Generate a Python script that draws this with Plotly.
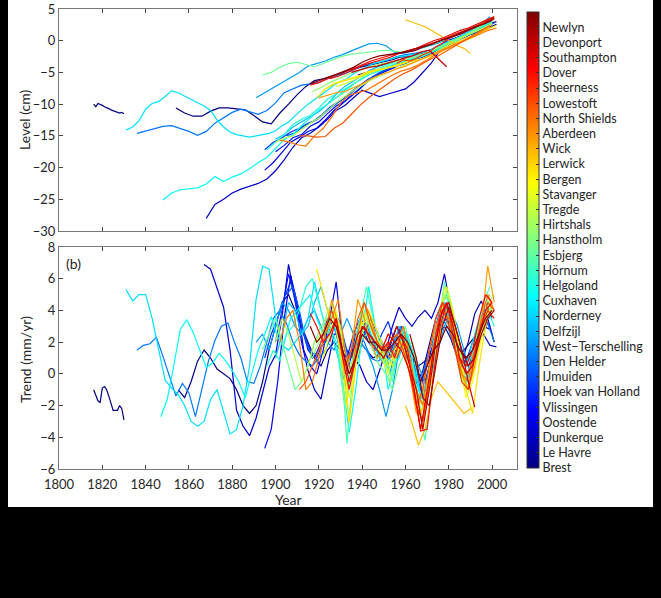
import plotly.graph_objects as go

W, H = 661, 598

# ---------------- data ----------------
stations = ["Brest", "Le Havre", "Dunkerque", "Oostende", "Vlissingen", "Hoek van Holland",
            "IJmuiden", "Den Helder", "West\u2212Terschelling", "Delfzijl", "Norderney", "Cuxhaven",
            "Helgoland", "Hörnum", "Esbjerg", "Hanstholm", "Hirtshals", "Tregde", "Stavanger",
            "Bergen", "Lerwick", "Wick", "Aberdeen", "North Shields", "Lowestoft", "Sheerness",
            "Dover", "Southampton", "Devonport", "Newlyn"]

# each series: (first year, year step, values)
lev_brest_a = (1816, 1, [-10.0, -10.4, -9.9, -10.0, -10.2, -10.4, -10.5, -10.7, -10.9, -11.0,
                         -11.1, -11.3, -11.4, -11.3, -11.5])
tr_brest_a = (1816, 1, [-1.0, -1.3, -1.7, -1.8, -0.9, -0.8, -1.0, -1.4, -1.8, -2.3,
                        -2.3, -2.3, -2.0, -2.2, -2.9])
lev_brest = (1854, 4, [-10.6, -11.4, -11.9, -11.9, -11.1, -10.6, -10.6, -10.7, -10.9, -11.8,
                       -12.8, -13.1, -11.4, -10.0, -8.5, -7.2, -6.3, -6.0, -5.6, -5.2,
                       -4.6, -4.3, -3.9, -3.6, -3.3, -3.0, -2.5, -2.6, -2.1, -1.9,
                       -1.2, -0.6, -0.2, 0.4, 1.0, 1.3, 2.0, 2.6])
tr_brest = (1855, 3, [-1.0, -1.5, -0.5, 0.8, 1.5, 1.0, 0.3, 0.0, -0.3, -1.0,
                      -2.0, -2.5, -2.0, -0.5, 1.5, 3.0, 4.5, 5.0, 4.0, 3.0,
                      2.0, 1.0, 0.5, 1.5, 2.0, 1.5, 1.0, 1.5, 2.0, 1.5,
                      1.0, 1.2, 0.8, 1.5, 2.0, 1.5, 1.0, 0.5, 0.8, 1.5,
                      2.5, 3.0, 2.2, 1.0, 1.5, 2.0, 2.5, 3.0, 2.8])

lev_lehavre = (1938, 4, [-5.4, -5.0, -4.6, -4.4, -4.0, -3.4, -3.0, -2.4, -1.8, -1.0,
                         -0.4, 0.2, 0.8, 1.2, 1.8, 2.6, 3.0])
tr_lehavre = (1950, 3, [1.0, 1.8, 3.0, 2.4, 0.5, -0.6, 0.2, 1.8, 3.5, 4.5,
                        3.2, 1.5, 0.8, 2.0, 3.8, 4.6, 3.5, 2.0])

lev_dunkerque = (1868, 4, [-28.0, -25.8, -25.0, -24.0, -23.4, -23.0, -22.5, -21.8, -20.5, -18.8,
                           -16.8, -15.3, -14.6, -13.6, -12.4, -11.0, -10.2, -9.0, -7.8, -8.3,
                           -8.8, -8.4, -8.0, -7.6, -6.5, -5.0, -3.5, -1.5, -0.6, 0.2,
                           0.8, 1.4, 1.9, 2.8])
tr_dunkerque = (1867, 3, [6.9, 6.6, 5.4, 4.2, 1.5, -2.3, -3.3, -3.9, -2.8, -1.2,
                          0.4, 1.2, 3.6, 6.9, 4.7, 2.0, 0.2, -1.0, -1.6, 0.5,
                          2.5, 2.5, 1.5, 1.0, 0.5, -0.5, -1.0, 0.2, 1.5, 3.0,
                          4.2, 3.5, 3.0, 3.6, 4.0, 3.5, 4.5, 6.3, 4.0, 2.0,
                          1.0, 1.2, 2.0, 2.5, 1.8, 1.7])

lev_oostende = (1895, 4, [-20.4, -19.2, -17.6, -16.0, -15.2, -14.3, -13.8, -12.5, -11.0, -9.9,
                          -8.8, -7.6, -6.2, -5.4, -4.8, -4.2, -3.4, -3.0, -2.4, -1.8,
                          -1.0, 0.0, 0.4, 0.9, 1.4, 2.0, 2.6])
tr_oostende = (1895, 3, [-4.7, -3.5, -0.5, 3.5, 6.2, 4.5, 1.5, 0.5, 0.0, 1.5,
                         3.5, 5.8, 2.0, 0.5, 2.5, 3.0, 2.0, 1.5, 2.0, 1.0,
                         2.0, 2.5, 1.5, 0.5, -0.5, 0.5, 2.0, 3.0, 3.5, 2.5,
                         1.0, 0.8, 2.0, 3.0, 3.5, 2.5])

lev_vlissingen = (1900, 4, [-17.5, -16.5, -15.3, -14.8, -13.5, -12.8, -11.5, -10.3, -9.5, -8.4,
                            -7.2, -6.0, -5.0, -4.4, -4.0, -3.6, -3.0, -2.6, -2.0, -1.4,
                            -0.6, 0.2, 0.8, 1.2, 1.8, 2.4])
tr_vlissingen = (1900, 3, [2.0, 4.0, 6.3, 5.0, 3.0, 1.5, 1.0, 2.0, 3.5, 3.0,
                           1.5, 1.0, 2.5, 3.5, 3.0, 2.2, 1.2, 1.8, 1.0, 2.0,
                           2.5, 1.5, 0.0, -0.5, 1.0, 2.5, 3.8, 3.0, 1.5, 0.5,
                           1.0, 2.5, 3.5, 3.0])

lev_hoek = (1895, 4, [-17.2, -16.0, -15.3, -14.4, -13.8, -13.0, -12.5, -11.3, -10.2, -9.2,
                      -8.0, -7.0, -6.0, -5.5, -4.6, -4.0, -3.4, -3.2, -2.6, -2.2,
                      -1.5, -0.8, -0.2, 0.6, 1.2, 1.8, 2.5])
tr_hoek = (1895, 3, [1.0, 2.5, 3.5, 4.8, 5.8, 4.0, 2.5, 1.5, 1.0, 2.0,
                     2.8, 3.2, 2.0, 1.0, 1.5, 2.8, 2.0, 1.5, 2.5, 3.3,
                     2.0, 3.0, 2.0, 0.5, -1.0, 1.0, 2.5, 4.0, 4.5, 2.5,
                     0.5, -0.5, 1.0, 2.5, 4.5, 3.5])

lev_ijmuiden = (1905, 4, [-15.0, -14.5, -13.5, -12.8, -11.8, -10.5, -9.6, -8.9, -7.6, -6.6,
                          -5.6, -4.9, -4.3, -3.6, -3.4, -2.8, -2.4, -1.8, -1.0, -0.2,
                          0.3, 1.0, 1.5, 2.2, 2.8])
tr_ijmuiden = (1905, 3, [5.0, 5.5, 4.0, 2.0, 1.0, 1.5, 2.0, 3.0, 3.5, 2.0,
                         0.0, 1.0, 2.5, 3.5, 2.5, 1.8, 0.0, 2.5, 3.0, 1.5,
                         0.0, -1.5, 0.5, 2.0, 3.5, 4.5, 3.0, 1.0, 0.5, 1.5,
                         3.0, 4.0])

lev_denhelder = (1836, 4, [-14.6, -14.2, -13.8, -13.5, -13.4, -13.8, -14.3, -14.9, -14.3, -13.0,
                           -12.2, -11.3, -10.8, -11.2, -11.6, -11.0, -9.8, -8.2, -7.6, -7.0,
                           -6.8, -6.6, -6.0, -5.5, -5.2, -4.6, -4.0, -3.6, -3.4, -3.0,
                           -2.5, -2.2, -2.0, -1.8, -1.4, -0.8, -0.2, 0.4, 1.0, 1.6,
                           2.2, 2.8])
tr_denhelder = (1836, 3, [1.5, 1.8, 1.9, 2.3, 1.1, -0.2, -1.4, -0.6, -1.2, -2.7,
                          -1.0, 0.8, 2.1, 3.0, 3.2, 2.0, 1.0, -0.5, -0.6, 0.5,
                          2.0, 3.5, 4.0, 3.2, 2.0, 1.2, 0.8, 0.5, 1.0, 1.5,
                          2.5, 1.0, -0.5, 1.5, 2.5, 2.0, 1.0, 0.8, 1.0, 1.5,
                          2.5, 1.5, 0.6, -0.5, 0.0, 1.5, 2.5, 3.5, 2.8, 1.5,
                          0.5, 1.0, 1.8, 2.5, 3.2, 2.0])

lev_westterschelling = (1891, 4, [-9.0, -8.2, -7.4, -6.6, -5.8, -5.0, -4.0, -3.6, -3.2, -2.6,
                                  -2.2, -1.6, -1.0, -0.5, -0.4, -0.8, -1.8, -2.0, -1.6, -1.2,
                                  -0.8, -0.4, 0.2, 0.8, 1.2, 1.8, 2.6, 3.8])
tr_westterschelling = (1891, 3, [2.0, 2.5, 1.5, 3.0, 4.5, 4.0, 3.0, 2.5, 3.5, 4.0,
                                 3.0, 2.0, 1.5, 2.5, 3.5, 2.5, 2.0, 1.5, 0.5, -1.0,
                                 -2.7, -1.0, 1.5, 2.5, 1.5, 0.5, -0.5, 0.0, 1.5, 3.0,
                                 4.0, 3.0, 1.5, 0.0, 1.0, 3.5, 4.5])

lev_delfzijl = (1900, 4, [-15.5, -14.8, -13.6, -12.8, -12.0, -11.2, -10.0, -8.4, -7.2, -6.4,
                          -5.5, -4.6, -4.0, -3.6, -3.2, -2.6, -2.4, -2.2, -1.6, -1.0,
                          -0.2, 0.4, 1.0, 1.8, 2.6, 3.4])
tr_delfzijl = (1900, 3, [1.0, 2.5, 4.5, 4.0, 2.5, 3.0, 4.5, 5.5, 4.0, 3.0,
                         1.5, -1.0, 0.5, 2.5, 3.0, 2.0, 1.0, 0.5, 1.5, 3.0,
                         2.5, 0.5, -1.5, -2.0, 0.0, 2.0, 4.0, 3.5, 1.0, -0.5,
                         0.5, 2.5, 4.0, 3.5])

lev_norderney = (1831, 3, [-14.1, -13.6, -12.6, -10.8, -9.9, -9.6, -8.8, -7.9, -8.2, -8.7,
                           -9.2, -9.8, -10.3, -11.0, -12.5, -13.6, -14.4, -14.8, -15.0, -15.2,
                           -15.0, -14.8, -14.6, -14.2, -13.4, -12.8, -11.8, -10.9, -10.0, -9.3,
                           -8.6, -7.8, -7.0, -6.4, -6.0, -5.2, -4.6, -4.2, -3.6, -3.3,
                           -3.0, -2.8, -2.5, -2.4, -2.2, -2.0, -1.8, -1.4, -1.0, -0.4,
                           0.0, 0.4, 1.0, 1.4, 2.0, 2.6, 3.2])
tr_norderney = (1831, 3, [5.3, 4.6, 5.0, 5.0, 3.5, 1.5, -0.4, -0.9, -1.3, -2.0,
                          -3.0, -3.3, -3.0, -1.6, -1.0, -2.4, -3.8, -3.5, -2.0, 0.5,
                          4.7, 6.8, 6.6, 3.6, 1.8, 1.5, 2.0, 2.5, 3.5, 5.8,
                          4.0, 2.5, 3.0, 2.0, -1.5, 1.0, 3.0, 3.5, 2.0, 1.0,
                          1.5, 0.5, 1.0, 2.5, 1.0, -1.0, -2.0, 0.5, 3.0, 4.5,
                          3.0, 1.0, 0.0, 1.5, 3.0, 4.0, 3.5])

lev_cuxhaven = (1848, 4, [-25.1, -24.0, -23.5, -23.3, -23.2, -22.6, -21.4, -22.2, -21.5, -21.0,
                          -20.2, -19.2, -18.4, -17.0, -15.6, -14.8, -13.4, -12.2, -10.9, -10.0,
                          -9.0, -7.8, -6.8, -6.0, -5.2, -4.6, -4.0, -3.6, -3.2, -2.8,
                          -2.4, -1.8, -1.0, -0.4, 0.2, 0.8, 1.6, 2.4, 3.2])
tr_cuxhaven = (1847, 3, [-2.7, -1.6, 0.5, 2.8, 3.4, 2.6, 1.5, 0.4, 0.7, 1.3,
                         0.8, 0.2, -0.5, -1.5, 0.0, 1.5, 2.5, 3.6, 2.3, 2.0,
                         3.5, 4.0, 4.5, 5.0, 3.5, 2.5, 3.0, 2.0, -0.5, -3.7,
                         -1.0, 2.5, 5.5, 3.0, 2.0, -1.0, 0.5, 2.0, 2.5, 1.0,
                         -1.5, -0.5, 2.0, 4.0, 5.0, 3.0, 1.0, -0.5, 0.5, 2.0,
                         3.5, 4.2])

lev_helgoland = (1896, 4, [-17.2, -16.0, -14.8, -13.2, -12.4, -11.8, -10.6, -9.2, -8.4, -7.6,
                           -6.8, -6.0, -5.2, -4.8, -4.2, -3.8, -3.4, -3.0, -2.4, -1.8,
                           -1.2, -0.6, 0.2, 0.8, 1.4, 2.2, 3.0])
tr_helgoland = (1896, 3, [0.5, 1.5, 0.8, 2.5, 3.0, 4.0, 5.5, 6.0, 4.5, 3.0,
                          2.5, 1.0, -2.0, 0.5, 3.0, 4.5, 3.0, 2.0, 1.0, 0.0,
                          1.5, 2.5, 1.0, -1.0, -3.0, -0.5, 2.0, 4.0, 3.5, 1.5,
                          -0.5, 0.0, 1.5, 3.0, 4.0, 3.0])

lev_hornum = (1925, 4, [-9.5, -8.8, -7.8, -6.6, -5.6, -4.8, -4.2, -3.6, -3.4, -3.0,
                        -2.6, -2.2, -1.6, -0.8, 0.0, 0.6, 1.2, 2.0, 2.8, 3.6])
tr_hornum = (1924, 3, [2.5, 4.0, 1.5, -4.4, 0.5, 3.5, 5.5, 3.5, 2.0, 1.0,
                       -0.5, 2.0, 3.0, 1.0, -2.0, -4.2, -1.0, 2.5, 5.8, 4.0,
                       1.5, -0.5, 0.5, 2.5, 4.5, 5.5])

lev_esbjerg = (1894, 4, [-5.4, -5.0, -4.2, -3.6, -3.4, -3.8, -4.1, -3.6, -3.0, -2.5,
                         -2.2, -2.0, -1.8, -1.6, -1.5, -1.6, -1.8, -1.6, -1.2, -0.8,
                         -0.4, 0.2, 0.6, 1.2, 1.8, 2.6, 3.4])
tr_esbjerg = (1894, 3, [1.5, 2.5, 3.5, 2.0, 0.5, -1.0, -0.5, 0.5, 2.0, 3.0,
                        3.5, 4.0, 3.0, 1.0, 0.5, 2.0, 2.5, 1.5, 0.5, 0.0,
                        -1.0, 0.5, 1.5, 2.0, 0.0, -1.5, 1.0, 3.0, 5.0, 4.5,
                        2.0, 0.5, 1.0, 2.5, 4.0, 5.0])

lev_hanstholm = (1917, 4, [-8.0, -7.4, -6.6, -6.0, -5.4, -4.8, -4.4, -4.0, -3.6, -3.4,
                           -3.2, -2.8, -2.4, -2.0, -1.4, -0.8, -0.2, 0.4, 1.0, 1.8,
                           2.8, 3.4])
tr_hanstholm = (1917, 3, [1.0, 2.0, 3.5, 4.5, 2.0, -2.0, 0.0, 2.5, 4.0, 3.0,
                          1.5, 1.0, -0.5, 1.5, 3.0, 1.0, -1.0, -3.0, -1.0, 2.0,
                          4.5, 5.0, 3.0, 0.5, -1.0, 0.5, 2.5, 4.5, 5.0])

lev_hirtshals = (1900, 4, [-16.0, -15.4, -15.0, -14.0, -13.0, -12.2, -11.0, -9.8, -8.8, -7.8,
                           -7.0, -6.2, -5.6, -5.0, -4.4, -3.8, -3.4, -2.8, -2.2, -1.4,
                           -0.6, 0.0, 0.8, 1.4, 2.0, 2.8])
tr_hirtshals = (1900, 3, [2.0, 3.5, 2.5, 1.0, -0.5, 0.5, 2.0, 2.5, 3.0, 4.0,
                          2.0, -0.5, 1.0, 3.0, 3.5, 2.5, 2.0, 1.0, 0.5, 1.5,
                          2.0, 0.0, -2.0, -1.5, 1.0, 3.0, 5.5, 4.5, 2.0, 0.0,
                          0.0, 1.5, 3.5, 4.5])

lev_tregde = (1928, 4, [-7.2, -6.8, -6.2, -5.6, -5.0, -4.6, -4.2, -4.0, -3.4, -3.2,
                        -2.8, -2.4, -1.8, -1.0, -0.4, 0.4, 1.0, 1.8, 2.6])
tr_tregde = (1928, 3, [3.0, 1.0, -1.5, 0.5, 2.5, 3.5, 2.5, 1.5, 0.5, 1.0,
                       2.5, 1.5, -0.5, -2.5, -1.0, 1.5, 3.5, 5.5, 4.0, 1.5,
                       -1.0, 0.0, 2.0, 3.5, 4.5])

lev_stavanger = (1922, 4, [-7.8, -7.0, -6.4, -6.0, -5.6, -5.0, -4.6, -4.4, -4.0, -3.6,
                           -3.2, -3.0, -2.6, -2.0, -1.4, -0.8, -0.2, 0.4, 1.0, 1.8,
                           2.4])
tr_stavanger = (1922, 3, [1.0, 2.5, 4.0, 2.0, -3.0, 0.5, 3.0, 4.0, 2.5, 1.0,
                          0.0, 1.5, 2.0, 1.0, -1.5, -3.5, -1.5, 1.0, 3.0, 4.5,
                          3.0, 0.5, -1.5, -0.5, 1.5, 3.5, 4.0])

lev_bergen = (1919, 4, [-9.0, -7.6, -6.8, -6.4, -6.0, -5.6, -5.0, -4.6, -4.4, -4.0,
                        -3.6, -3.2, -3.0, -2.4, -1.8, -1.0, -0.4, 0.2, 0.8, 1.4,
                        2.2])
tr_bergen = (1919, 3, [6.6, 5.0, 3.5, 3.0, 0.5, -3.1, 0.5, 3.5, 4.0, 3.0,
                       2.0, 1.5, 1.0, 2.0, 1.5, -1.0, -2.5, -1.5, 0.0, 2.5,
                       4.0, 3.5, 1.0, -1.0, -2.5, 0.5, 3.0, 4.5])

lev_lerwick = (1960, 3, [3.3, 2.9, 2.5, 2.2, 1.6, 1.0, 0.5, -0.2, -0.8, -1.2, -2.0])
tr_lerwick = (1960, 3, [-2.0, -3.1, -4.5, -3.5, -1.5, -0.5, -1.0, -1.5, -2.0, -2.5, -2.2])

lev_wick = (1920, 4, [-9.0, -8.6, -8.2, -8.0, -7.4, -6.8, -6.0, -5.4, -5.0, -4.4,
                      -4.0, -3.4, -2.8, -2.2, -1.6, -1.0, -0.4, 0.2, 0.8, 1.6,
                      2.2])
tr_wick = (1920, 3, [1.0, 2.5, 4.7, 3.0, 0.0, 1.5, 4.7, 3.5, 2.0, 1.0,
                     1.5, 2.0, 2.5, 1.5, 0.0, -2.5, -1.0, 1.5, 3.0, 4.0,
                     3.5, 1.5, 0.0, -1.0, 0.5, 3.0, 6.8, 4.5])

lev_aberdeen = (1902, 4, [-15.7, -15.9, -16.4, -16.6, -15.0, -13.8, -12.0, -9.8, -8.6, -8.2,
                          -7.8, -7.0, -6.2, -5.4, -4.8, -4.4, -3.8, -3.0, -2.2, -1.4,
                          -0.8, -0.2, 0.4, 1.0, 1.6, 2.0])
tr_aberdeen = (1902, 3, [2.0, 3.5, 4.0, 2.0, -1.0, -0.5, 1.0, 2.5, 3.5, 4.7,
                         1.5, 0.0, 2.5, 4.5, 3.5, 2.0, 1.5, 1.0, 2.0, 3.0,
                         1.0, -1.0, -2.0, 0.5, 2.5, 4.0, 3.5, 1.5, 0.0, -0.5,
                         1.5, 3.5, 5.0, 4.0])

lev_northshields = (1911, 4, [-15.0, -15.0, -15.2, -15.1, -13.8, -13.0, -11.6, -10.2, -9.0, -8.0,
                              -7.0, -6.0, -5.2, -4.6, -3.8, -3.0, -2.4, -1.6, -0.8, 0.0,
                              0.8, 1.6, 2.4])
tr_northshields = (1911, 3, [-1.0, -0.5, 0.5, 1.5, 3.0, 4.0, 2.5, 0.5, 1.5, 3.5,
                             4.5, 3.0, 2.0, 1.5, 2.0, 2.5, 1.5, 0.0, -2.0, -1.0,
                             1.5, 3.5, 4.5, 3.0, 1.5, 0.5, 0.0, 1.5, 3.0, 4.5,
                             4.0])

lev_lowestoft = (1956, 3, [-3.6, -3.0, -3.2, -2.8, -2.2, -1.8, -1.0, -0.4, 0.4, 0.8,
                           1.4, 1.8, 2.2, 2.6, 3.0, 3.4])
tr_lowestoft = (1956, 3, [1.0, 2.0, 0.5, -2.0, -3.0, -0.5, 2.5, 4.5, 4.0, 1.5,
                          -0.5, -1.0, 1.0, 3.0, 4.0, 3.5])

lev_sheerness = (1916, 4, [-7.0, -6.6, -6.0, -5.4, -4.8, -4.4, -3.8, -3.2, -2.8, -2.4,
                           -2.0, -1.8, -1.4, -1.0, -0.4, 0.0, 0.6, 1.2, 1.6, 2.2,
                           2.8, 3.6])
tr_sheerness = (1916, 3, [3.8, 3.0, 2.0, 2.5, 3.5, 1.0, -1.0, 1.0, 3.0, 2.5,
                          2.0, 1.5, 2.0, 1.0, 2.5, 1.5, -1.0, -3.6, -3.5, 0.0,
                          3.0, 4.5, 3.0, 1.0, 0.5, 1.5, 3.5, 5.0, 4.5])

lev_dover = (1925, 4, [-6.0, -5.6, -5.0, -4.4, -3.8, -3.4, -3.0, -2.6, -2.0, -1.6,
                       -1.2, -0.6, 0.0, 0.4, 1.0, 1.6, 2.0, 2.6, 3.2, 3.8])
tr_dover = (1925, 3, [2.0, 3.5, 1.5, -0.5, 1.0, 3.0, 2.5, 2.0, 1.5, 2.5,
                      2.0, 1.5, 0.5, -1.0, -3.5, -1.0, 1.5, 3.5, 4.5, 3.0,
                      1.0, 0.0, 0.5, 2.5, 4.0, 4.5])

lev_southampton = (1935, 4, [-5.0, -4.6, -4.2, -4.0, -3.6, -3.2, -2.8, -2.4, -1.8, -1.5,
                             -2.8, -4.1])
tr_southampton = (1935, 3, [1.0, 2.5, 3.0, 2.0, 1.5, 1.0, 2.0, 3.0, 2.0, 0.5,
                            -1.0, -3.5, -1.0, 2.0, 4.0, 4.5, 3.0, 1.5, -0.5, -2.1])

lev_devonport = (1957, 4, [-2.0, -1.6, -1.2, -0.9, -0.4, 0.2, 0.6, 1.0, 1.6, 2.2,
                           2.8, 3.6])
tr_devonport = (1962, 3, [2.5, 1.0, -1.5, -2.0, 0.5, 3.0, 4.2, 3.0, 1.5, 0.5,
                          1.0, 2.5, 3.5, 4.0])

lev_newlyn = (1916, 4, [-6.8, -6.3, -5.8, -5.4, -4.8, -4.2, -3.4, -2.8, -2.4, -2.2,
                        -2.0, -1.8, -1.6, -1.0, -0.6, 0.0, 0.4, 1.0, 1.6, 2.2,
                        2.6, 3.2])
tr_newlyn = (1916, 3, [3.0, 2.0, 2.5, 3.5, 3.0, 1.5, 0.0, 1.0, 2.5, 2.0,
                       2.0, 1.5, 1.5, 2.0, 2.5, 2.0, 1.0, -0.5, 0.5, 1.5,
                       2.0, 3.0, 2.5, 1.5, 1.0, 1.5, 2.5, 3.5, 4.0])

level_series = [[lev_brest_a, lev_brest], [lev_lehavre], [lev_dunkerque], [lev_oostende],
                [lev_vlissingen], [lev_hoek], [lev_ijmuiden], [lev_denhelder],
                [lev_westterschelling], [lev_delfzijl], [lev_norderney], [lev_cuxhaven],
                [lev_helgoland], [lev_hornum], [lev_esbjerg], [lev_hanstholm], [lev_hirtshals],
                [lev_tregde], [lev_stavanger], [lev_bergen], [lev_lerwick], [lev_wick],
                [lev_aberdeen], [lev_northshields], [lev_lowestoft], [lev_sheerness],
                [lev_dover], [lev_southampton], [lev_devonport], [lev_newlyn]]
trend_series = [[tr_brest_a, tr_brest], [tr_lehavre], [tr_dunkerque], [tr_oostende],
                [tr_vlissingen], [tr_hoek], [tr_ijmuiden], [tr_denhelder],
                [tr_westterschelling], [tr_delfzijl], [tr_norderney], [tr_cuxhaven],
                [tr_helgoland], [tr_hornum], [tr_esbjerg], [tr_hanstholm], [tr_hirtshals],
                [tr_tregde], [tr_stavanger], [tr_bergen], [tr_lerwick], [tr_wick],
                [tr_aberdeen], [tr_northshields], [tr_lowestoft], [tr_sheerness],
                [tr_dover], [tr_southampton], [tr_devonport], [tr_newlyn]]

level_ticks = [-30, -25, -20, -15, -10, -5, 0, 5]
trend_ticks = [-6, -4, -2, 0, 2, 4, 6, 8]
year_ticks = [1800, 1820, 1840, 1860, 1880, 1900, 1920, 1940, 1960, 1980, 2000]


# ---------------- styling helpers ----------------
def jet(t):
    def c(v):
        return max(0.0, min(1.0, v))
    r = c(1.5 - abs(4 * t - 3))
    g = c(1.5 - abs(4 * t - 2))
    b = c(1.5 - abs(4 * t - 1))
    return "rgb(%d,%d,%d)" % (round(r * 255), round(g * 255), round(b * 255))


def xy(segments):
    xs, ys = [], []
    for k, (start, step, vals) in enumerate(segments):
        if k:
            xs.append(None)
            ys.append(None)
        xs += [start + step * i for i in range(len(vals))]
        ys += list(vals)
    return xs, ys


def px(x):
    return x / W


def py(y):
    return 1 - y / H


FONT = "Lato, 'Open Sans', sans-serif"
TXT = "#262626"
n = len(stations)

fig = go.Figure()
for i in range(n):
    col = jet(i / (n - 1))
    x1, y1 = xy(level_series[i])
    fig.add_trace(go.Scatter(x=x1, y=y1, mode="lines", line=dict(color=col, width=1.2),
                             xaxis="x", yaxis="y", showlegend=False, hoverinfo="skip"))
    x2, y2 = xy(trend_series[i])
    fig.add_trace(go.Scatter(x=x2, y=y2, mode="lines", line=dict(color=col, width=1.2),
                             xaxis="x2", yaxis="y2", showlegend=False, hoverinfo="skip"))

# colorbar carrier
cs = [[k / 16, jet(k / 16)] for k in range(17)]
fig.add_trace(go.Scatter(
    x=[None], y=[None], mode="markers", xaxis="x", yaxis="y", showlegend=False,
    marker=dict(color=[1], cmin=1, cmax=31, colorscale=cs, showscale=True,
                colorbar=dict(x=px(527), xanchor="left", y=py(240), yanchor="middle",
                              thickness=12, thicknessmode="pixels",
                              len=456, lenmode="pixels",
                              tickvals=list(range(1, n + 1)), ticktext=stations,
                              ticks="inside", ticklen=3, tickcolor="#333",
                              outlinewidth=1, outlinecolor="#333",
                              tickfont=dict(family=FONT, size=12.5, color=TXT),
                              ypad=0, xpad=0))))

xr = [1800, 2011.5]
axcommon = dict(showgrid=False, zeroline=False, ticks="inside", ticklen=4, tickcolor="#444",
                linecolor="#777", linewidth=1, mirror="ticks", showline=True,
                tickfont=dict(family=FONT, size=13, color=TXT))


def label(text, x, y, angle=0):
    return dict(text=text, x=px(x), y=py(y), xref="paper", yref="paper",
                xanchor="center", yanchor="middle", textangle=angle, showarrow=False,
                font=dict(family=FONT, size=14, color=TXT))


fig.update_layout(
    width=W, height=H, autosize=False,
    margin=dict(l=0, r=0, t=0, b=0, autoexpand=False),
    paper_bgcolor="black", plot_bgcolor="white",
    xaxis=dict(domain=[px(59), px(517)], range=xr, anchor="y", tickvals=year_ticks,
               showticklabels=False, **axcommon),
    yaxis=dict(domain=[py(231), py(9)], range=[-30, 5], anchor="x", tickvals=level_ticks,
               **axcommon),
    xaxis2=dict(domain=[px(59), px(517)], range=xr, anchor="y2", tickvals=year_ticks,
                ticklabelstandoff=3, **axcommon),
    yaxis2=dict(domain=[py(469), py(247)], range=[-6, 8], anchor="x2", tickvals=trend_ticks,
                **axcommon),
    shapes=[dict(type="rect", xref="paper", yref="paper", x0=px(8), x1=px(653),
                 y0=py(507), y1=1, fillcolor="white", line=dict(width=0), layer="below")],
    annotations=[
        label("Level (cm)", 25, 120, -90),
        label("Trend (mm/yr)", 25, 360, -90),
        label("Year", 288, 499),
        label("(b)", 73, 264),
    ],
)

fig.write_html("out.html",
               config={"displayModeBar": False},
               post_script="document.body.style.margin='0';"
                           "document.body.style.background='black';"
                           "document.documentElement.style.background='black';")
